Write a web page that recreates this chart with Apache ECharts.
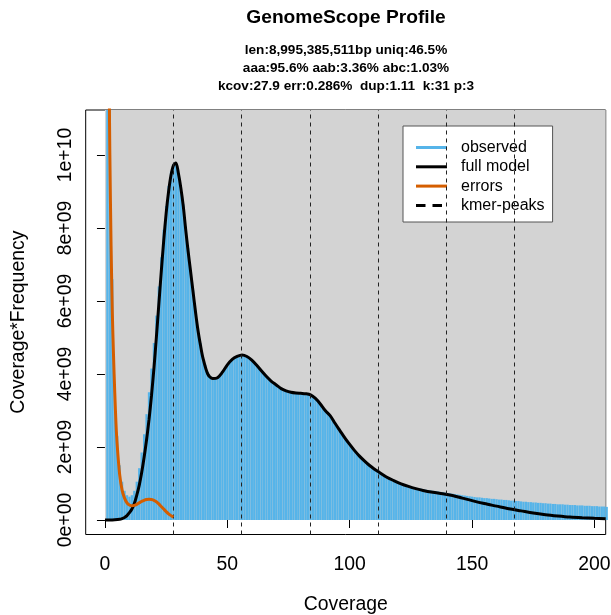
<!DOCTYPE html>
<html><head><meta charset="utf-8">
<script src="https://cdn.jsdelivr.net/npm/echarts@6/dist/echarts.min.js"></script>
<style>html,body{margin:0;padding:0;background:#fff}#c{width:611px;height:615px}</style>
</head><body><div id="c"></div>
<script>
const titleText = "GenomeScope Profile";
const subtitleLines = ["len:8,995,385,511bp uniq:46.5%", "aaa:95.6% aab:3.36% abc:1.03%", "kcov:27.9 err:0.286%  dup:1.11  k:31 p:3"];
const xTickValues = [0, 50, 100, 150, 200];
const yTickValues = [0, 2, 4, 6, 8, 10];          // in units of 1e9
const yTickLabels = ["0e+00", "2e+09", "4e+09", "6e+09", "8e+09", "1e+10"];
const legendNames = ["observed", "full model", "errors", "kmer-peaks"];

// observed histogram: coverage and coverage*frequency (1e9)
const obsCoverage = [1,2,3,4,5,6,7,8,9,10,11,12,13,14,15,16,17,18,19,20,21,22,23,24,25,26,27,28,29,30,31,32,33,34,35,36,37,38,39,40,41,42,43,44,45,46,47,48,49,50,51,52,53,54,55,56,57,58,59,60,61,62,63,64,65,66,67,68,69,70,71,72,73,74,75,76,77,78,79,80,81,82,83,84,85,86,87,88,89,90,91,92,93,94,95,96,97,98,99,100,101,102,103,104,105,106,107,108,109,110,111,112,113,114,115,116,117,118,119,120,121,122,123,124,125,126,127,128,129,130,131,132,133,134,135,136,137,138,139,140,141,142,143,144,145,146,147,148,149,150,151,152,153,154,155,156,157,158,159,160,161,162,163,164,165,166,167,168,169,170,171,172,173,174,175,176,177,178,179,180,181,182,183,184,185,186,187,188,189,190,191,192,193,194,195,196,197,198,199,200,201,202,203,204,205];
const obsValues = [40,14,6.6,3.7,2.3,1.5,1.05,0.8,0.68,0.64,0.68,0.8,1.05,1.42,1.85,2.35,2.9,3.5,4.15,4.85,
5.6,6.4,7.2,7.95,8.6,9.15,9.55,9.75,9.72,9.5,9.15,8.65,8.05,7.45,6.85,6.3,5.75,5.25,4.85,4.5,
4.25,4.05,3.95,3.9,3.9,3.92,3.98,4.06,4.15,4.25,4.33,4.4,4.45,4.49,4.51,4.52,4.51,4.48,4.44,4.38,
4.31,4.24,4.16,4.08,4.0,3.93,3.86,3.8,3.75,3.7,3.65,3.6,3.57,3.54,3.52,3.5,3.49,3.48,3.47,3.47,
3.46,3.46,3.45,3.43,3.39,3.33,3.26,3.18,3.09,3.0,2.93,2.85,2.75,2.65,2.55,2.45,2.35,2.26,2.17,2.08,
1.99,1.91,1.83,1.76,1.69,1.63,1.57,1.51,1.46,1.41,1.36,1.32,1.28,1.24,1.2,1.16,1.13,1.1,1.06,1.03,
1.01,0.98,0.96,0.94,0.92,0.9,0.88,0.87,0.86,0.85,0.83,0.82,0.81,0.8,0.79,0.78,0.77,0.76,0.75,0.74,
0.73,0.72,0.71,0.7,0.69,0.68,0.67,0.66,0.65,0.64,0.63,0.62,0.62,0.61,0.6,0.6,0.59,0.58,0.58,0.57,
0.56,0.56,0.55,0.55,0.54,0.53,0.53,0.52,0.52,0.51,0.5,0.5,0.49,0.49,0.48,0.48,0.47,0.47,0.46,0.46,
0.45,0.45,0.44,0.44,0.43,0.43,0.43,0.42,0.42,0.41,0.41,0.41,0.4,0.4,0.4,0.39,0.39,0.39,0.38,0.38,
0.38,0.37,0.37,0.37,0.36];

// full model
const modelCoverage = [0,2,4,6,7,8,9,10,11,12,13,14,15,16,17,18,19,20,21,22,23,24,25,26,27,28,29,30,31,32,33,34,35,36,37,38,39,40,42,44,46,48,50,52,54,56,58,60,62,64,66,68,70,72,74,76,78,80,82,84,86,88,90,92,94,96,98,100,102,104,106,108,110,112,115,118,121,124,127,130,134,138,142,146,150,155,160,165,170,175,180,185,190,195,200,204.6];
const modelValues = [0,0,0.005,0.02,0.04,0.07,0.12,0.2,0.3,0.45,0.68,0.95,1.3,1.72,2.2,2.75,3.4,4.15,5.0,5.9,6.8,7.65,8.4,9.0,9.45,9.72,9.78,9.5,9.1,8.6,7.95,7.35,6.8,6.25,5.7,5.2,4.8,4.45,4.0,3.88,3.9,4.05,4.25,4.4,4.48,4.52,4.48,4.38,4.24,4.08,3.93,3.8,3.7,3.6,3.54,3.5,3.48,3.47,3.46,3.43,3.33,3.18,3.0,2.86,2.65,2.45,2.25,2.07,1.9,1.75,1.62,1.5,1.4,1.31,1.18,1.08,0.99,0.92,0.86,0.81,0.76,0.72,0.67,0.6,0.53,0.45,0.38,0.31,0.25,0.19,0.145,0.11,0.08,0.06,0.045,0.035];

// errors
const errCoverage = [1.6,1.8,2,2.5,3,3.5,4,4.5,5,6,7,8,9,10,11,12,13,14,15,16,17,18,19,20,21,22,23,24,25,26,27,28];
const errValues = [14,11.5,10,7.5,5.7,4.5,3.5,2.65,2.05,1.25,0.82,0.6,0.47,0.41,0.39,0.4,0.43,0.47,0.51,0.54,0.56,0.57,0.56,0.54,0.5,0.44,0.37,0.3,0.23,0.17,0.12,0.08];

// kmer peaks
const kmerPeaks = [27.9, 55.8, 83.7, 111.6, 139.5, 167.4];

const X_MIN = -7.87, X_MAX = 204.6, Y_MIN = -0.397, Y_MAX = 11.233;
const FONT = "'Liberation Sans', Arial, sans-serif";
const BLUE = '#56B4E9', ORANGE = '#D55E00';
const AXIS_FS = 19.4;
const SOLID_ICON = 'path://M0,0h31v3h-31z';
const DASH_ICON = 'path://M0,0h9.5v3h-9.5z M16.5,0h9.5v3h-9.5z M30.95,1.45h0.05v0.05h-0.05z';

const chart = echarts.init(document.getElementById('c'), null, {renderer: 'canvas'});
const option = {
  animation: false,
  backgroundColor: '#fff',
  textStyle: {fontFamily: FONT},
  graphic: [
    {type: 'text', x: 346, y: 18, style: {text: titleText, textAlign: 'center', textVerticalAlign: 'middle', font: "bold 19.2px " + FONT, fill: '#000'}},
    {type: 'text', x: 346, y: 50.7, style: {text: subtitleLines[0], textAlign: 'center', textVerticalAlign: 'middle', font: "bold 13.6px " + FONT, fill: '#000'}},
    {type: 'text', x: 346, y: 68.3, style: {text: subtitleLines[1], textAlign: 'center', textVerticalAlign: 'middle', font: "bold 13.6px " + FONT, fill: '#000'}},
    {type: 'text', x: 346, y: 86, style: {text: subtitleLines[2], textAlign: 'center', textVerticalAlign: 'middle', font: "bold 13.6px " + FONT, fill: '#000'}}
  ],
  grid: {left: 85.7, top: 110, right: 5.3, bottom: 80.5, show: true, borderColor: '#000', borderWidth: 1, backgroundColor: 'transparent', containLabel: false, outerBoundsMode: 'none'},
  legend: {
    data: [
      {name: legendNames[0], icon: SOLID_ICON},
      {name: legendNames[1], icon: SOLID_ICON},
      {name: legendNames[2], icon: SOLID_ICON},
      {name: legendNames[3], icon: DASH_ICON}
    ],
    orient: 'vertical', left: 403, top: 126,
    backgroundColor: '#fff', borderColor: '#555', borderWidth: 1, borderRadius: 0,
    padding: [13.5, 8, 8.6, 13],
    itemWidth: 31, itemHeight: 3, itemGap: 3.3,
    selectedMode: false,
    textStyle: {fontFamily: FONT, fontSize: 16, color: '#000', padding: [0, 0, 0, 9]}
  },
  xAxis: {
    type: 'value', min: X_MIN, max: X_MAX,
    axisLine: {show: false}, splitLine: {show: false},
    axisTick: {show: true, customValues: xTickValues, length: 8, lineStyle: {color: '#000'}},
    axisLabel: {customValues: xTickValues, margin: 21, fontSize: AXIS_FS, color: '#000', fontFamily: FONT},
    name: 'Coverage', nameLocation: 'middle', nameGap: 61,
    nameTextStyle: {fontSize: AXIS_FS, color: '#000', fontFamily: FONT}
  },
  yAxis: {
    type: 'value', min: Y_MIN, max: Y_MAX,
    axisLine: {show: false}, splitLine: {show: false},
    axisTick: {show: true, customValues: yTickValues, length: 8, lineStyle: {color: '#000'}},
    axisLabel: {customValues: yTickValues, rotate: 90, margin: 11, fontSize: AXIS_FS, color: '#000', fontFamily: FONT,
      formatter: function (v) { const i = yTickValues.indexOf(v); return i >= 0 ? yTickLabels[i] : ''; }},
    name: 'Coverage*Frequency', nameLocation: 'middle', nameGap: 58,
    nameTextStyle: {fontSize: AXIS_FS, color: '#000', fontFamily: FONT}
  },
  series: [
    {
      name: 'bg', type: 'line', data: [[0, 0]], symbol: 'none', z: -1, silent: true,
      lineStyle: {width: 0},
      markArea: {silent: true, itemStyle: {color: '#D3D3D3'}, data: [[{coord: [0, 0]}, {coord: [X_MAX, Y_MAX]}]]}
    },
    {
      name: 'obsbars', type: 'bar', barWidth: 2.3, z: 2, silent: true,
      itemStyle: {color: BLUE},
      data: obsCoverage.map((c, i) => [c, obsValues[i]])
    },
    {
      name: 'kmer-peaks', type: 'line', data: [], symbol: 'none', z: 3,
      color: '#000', itemStyle: {color: '#000'},
      lineStyle: {color: '#000', width: 3, type: 'dashed'},
      markLine: {silent: true, symbol: ['none', 'none'], label: {show: false},
        lineStyle: {color: '#222', width: 1, type: [4, 4]},
        data: kmerPeaks.map(p => ({xAxis: p}))}
    },
    {
      name: 'full model', type: 'line', symbol: 'none', z: 4, smooth: 0.3,
      color: '#000', itemStyle: {color: '#000'}, lineStyle: {color: '#000', width: 3},
      data: modelCoverage.map((c, i) => [c, modelValues[i]])
    },
    {
      name: 'errors', type: 'line', symbol: 'none', z: 5, smooth: 0.3,
      color: ORANGE, itemStyle: {color: ORANGE}, lineStyle: {color: ORANGE, width: 3},
      data: errCoverage.map((c, i) => [c, errValues[i]])
    },
    {
      name: 'observed', type: 'line', data: [], symbol: 'none',
      color: BLUE, itemStyle: {color: BLUE}, lineStyle: {color: BLUE, width: 3}
    }
  ]
};
chart.setOption(option);
</script>
</body></html>
